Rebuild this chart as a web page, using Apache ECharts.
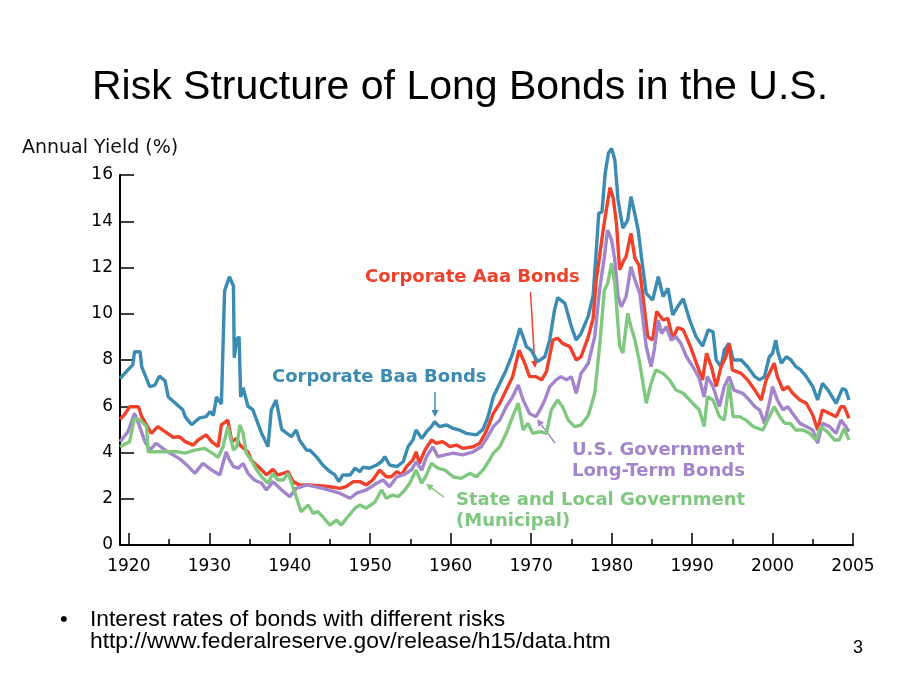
<!DOCTYPE html>
<html>
<head>
<meta charset="utf-8">
<script src="https://cdn.jsdelivr.net/npm/echarts@6/dist/echarts.min.js"></script>
<style>
html,body{margin:0;padding:0;background:#fff;}
#chart{width:920px;height:690px;}
</style>
</head>
<body>
<div id="chart"></div>
<script>
// ---- Data (x = position on the drawn time axis, y = annual yield %) ----
const baaYear = [1918.9,1920.5,1920.7,1921.4,1921.6,1922.6,1923.2,1923.8,1924.5,1924.9,1925.9,1926.7,1927.0,1927.8,1928.8,1929.6,1930.1,1930.5,1930.9,1931.5,1931.9,1932.5,1933.0,1933.1,1933.4,1933.7,1933.9,1934.2,1934.8,1935.4,1936.5,1937.3,1937.7,1938.3,1939.0,1940.2,1940.8,1941.2,1942.1,1942.5,1943.3,1944.1,1945.0,1945.6,1946.1,1946.6,1947.5,1948.1,1948.7,1949.1,1949.9,1950.8,1951.4,1951.8,1952.4,1953.3,1954.1,1954.7,1955.3,1955.7,1956.4,1957.0,1957.6,1958.0,1958.6,1959.5,1960.3,1961.1,1961.9,1963.2,1964.0,1964.6,1965.3,1966.1,1966.9,1967.7,1968.6,1969.0,1969.4,1970.0,1970.8,1971.7,1972.3,1972.9,1973.3,1974.2,1975.0,1975.6,1976.2,1977.1,1977.7,1978.1,1978.4,1978.8,1979.2,1979.6,1980.0,1980.4,1980.8,1981.4,1982.0,1982.4,1982.9,1983.3,1983.7,1984.3,1985.1,1985.8,1986.4,1987.0,1987.6,1988.2,1988.9,1989.7,1990.5,1991.3,1992.0,1992.6,1993.0,1993.6,1994.0,1994.6,1995.1,1996.1,1996.9,1997.8,1998.4,1999.0,1999.6,2000.0,2000.4,2000.7,2001.1,2001.7,2002.3,2002.9,2003.5,2004.2,2005.0,2005.6,2006.2,2006.9,2007.9,2008.7,2009.1,2009.5];
const baaYield = [7.2,7.8,8.36,8.36,7.7,6.85,6.9,7.3,7.1,6.4,6.1,5.85,5.55,5.2,5.5,5.55,5.77,5.6,6.4,6.1,11.0,11.6,11.2,8.1,8.9,9.0,6.4,6.8,6.0,5.85,4.83,4.25,5.84,6.27,5.0,4.68,4.97,4.54,4.1,4.1,3.82,3.46,3.17,3.03,2.74,3.03,3.03,3.32,3.17,3.36,3.32,3.46,3.6,3.82,3.46,3.39,3.6,4.25,4.54,4.97,4.61,4.9,5.12,5.33,5.12,5.19,5.04,4.97,4.83,4.76,5.0,5.5,6.41,6.99,7.57,8.29,9.37,9.0,8.58,8.43,7.93,8.14,8.86,10.16,10.7,10.45,9.44,8.86,9.15,9.9,10.8,12.76,14.34,14.4,16.07,16.94,17.15,16.65,14.92,13.7,14.05,15.06,14.3,13.62,12.47,10.88,10.59,11.6,10.74,11.1,9.95,10.3,10.65,9.73,9.0,8.6,9.3,9.22,8.0,7.71,8.43,8.72,8.0,8.0,7.71,7.28,7.14,7.28,8.14,8.29,8.86,8.29,7.86,8.14,8.0,7.71,7.57,7.28,6.85,6.27,6.99,6.7,6.13,6.77,6.7,6.27];

const aaaYear = [1918.9,1919.5,1920.1,1921.2,1921.6,1922.8,1923.6,1924.5,1925.5,1926.3,1927.0,1928.0,1928.6,1929.6,1930.3,1931.1,1931.5,1932.3,1932.8,1933.4,1933.8,1934.8,1935.2,1936.3,1937.1,1937.9,1938.5,1939.2,1939.8,1940.4,1941.2,1942.5,1944.1,1945.4,1946.2,1947.0,1947.9,1948.7,1949.5,1950.3,1951.2,1952.0,1952.6,1953.3,1953.9,1954.5,1955.3,1955.7,1956.1,1956.8,1957.6,1958.2,1959.0,1959.9,1960.7,1961.5,1962.8,1963.6,1964.4,1965.3,1966.1,1966.9,1967.7,1968.5,1969.2,1969.8,1970.6,1971.3,1971.9,1972.7,1973.3,1973.9,1974.8,1975.6,1976.2,1977.1,1977.7,1978.1,1978.5,1978.9,1979.3,1979.8,1980.2,1980.6,1981.0,1981.5,1981.8,1982.4,1982.9,1983.4,1983.9,1984.5,1985.1,1985.6,1986.4,1987.0,1987.6,1988.2,1988.9,1989.8,1990.5,1991.3,1991.8,1992.4,1993.0,1993.6,1994.2,1994.6,1995.0,1996.1,1996.9,1997.8,1998.6,1999.2,2000.2,2000.6,2001.3,2001.9,2002.5,2003.4,2004.2,2005.0,2005.6,2006.2,2007.1,2007.9,2008.5,2008.9,2009.5];
const aaaYield = [5.43,5.66,5.98,5.98,5.55,4.83,5.12,4.9,4.66,4.68,4.47,4.32,4.54,4.76,4.47,4.25,5.19,5.4,4.47,4.61,4.32,4.03,3.68,3.32,3.03,3.27,3.03,3.1,3.17,2.74,2.6,2.6,2.55,2.5,2.45,2.52,2.74,2.74,2.6,2.81,3.24,2.95,2.95,3.17,3.03,3.39,3.68,4.03,3.53,4.1,4.54,4.4,4.47,4.25,4.32,4.18,4.25,4.4,4.9,5.69,6.13,6.7,7.28,8.43,7.86,7.28,7.28,7.14,7.5,8.86,8.94,8.72,8.58,8.0,8.14,9.0,9.8,11.5,12.47,13.5,14.4,15.46,15.0,13.9,11.9,12.3,12.47,13.48,12.4,12.1,10.74,9.0,8.86,10.1,9.73,9.8,8.9,9.4,9.3,8.58,7.9,7.14,8.29,7.71,6.85,7.71,8.14,8.72,7.57,7.42,7.14,6.7,6.27,7.14,7.86,7.28,6.7,6.85,6.56,6.27,6.13,5.62,4.97,5.84,5.69,5.55,5.98,5.98,5.48];

const govYear = [1918.9,1919.9,1920.7,1921.2,1922.0,1922.6,1923.4,1924.5,1925.5,1926.5,1927.4,1928.2,1929.2,1930.3,1931.3,1932.1,1932.5,1933.0,1933.6,1934.2,1934.8,1935.6,1936.5,1937.1,1937.9,1939.0,1940.0,1940.8,1942.1,1944.1,1946.2,1947.5,1948.3,1949.5,1950.8,1951.6,1952.4,1953.3,1954.1,1955.1,1955.7,1956.4,1957.0,1957.8,1958.4,1959.3,1960.3,1961.5,1962.8,1963.8,1964.6,1965.3,1966.1,1966.9,1967.7,1968.4,1969.0,1969.8,1970.6,1971.1,1971.7,1972.3,1973.1,1973.7,1974.4,1975.0,1975.6,1976.2,1977.1,1977.9,1978.5,1979.1,1979.5,1980.0,1980.4,1980.8,1981.2,1981.8,1982.4,1982.9,1983.5,1983.9,1984.3,1984.9,1985.3,1985.8,1986.2,1986.8,1987.4,1988.0,1988.6,1989.3,1990.1,1990.9,1991.5,1991.9,1992.6,1993.4,1994.0,1994.6,1995.2,1996.3,1997.1,1997.8,1998.4,1999.0,1999.6,2000.0,2000.6,2001.3,2001.9,2002.5,2003.4,2004.2,2005.0,2005.6,2006.2,2007.1,2007.9,2008.5,2009.1,2009.5];
const govYield = [4.47,4.9,5.69,5.26,4.47,4.1,4.4,4.1,3.9,3.68,3.39,3.1,3.53,3.24,3.03,4.03,3.68,3.39,3.32,3.53,3.1,2.81,2.67,2.38,2.74,2.38,2.09,2.45,2.6,2.45,2.24,2.02,2.24,2.38,2.67,2.81,2.52,2.95,3.03,3.24,3.6,3.24,3.82,4.25,3.82,3.9,3.97,3.9,4.03,4.25,4.68,5.12,5.4,5.98,6.41,6.92,6.27,5.69,5.55,5.84,6.27,6.85,7.14,7.28,7.14,7.28,6.56,7.42,7.86,9.0,11.03,12.47,13.62,13.19,12.32,10.74,10.3,10.74,12.03,11.46,10.88,9.73,8.58,7.71,8.43,9.73,9.15,9.44,8.86,9.0,8.72,8.14,7.71,7.2,6.4,7.28,6.85,5.98,6.85,7.28,6.7,6.56,6.27,5.98,5.84,5.26,6.13,6.85,6.27,5.84,5.98,5.69,5.26,5.12,4.97,4.4,5.26,5.12,4.83,5.4,5.12,4.9];

const muniYear = [1918.9,1920.1,1920.7,1921.4,1922.2,1922.4,1923.2,1924.5,1926.1,1927.0,1928.2,1929.4,1930.3,1931.1,1931.7,1932.3,1933.0,1933.4,1933.8,1934.2,1934.6,1935.2,1935.9,1936.5,1937.3,1937.9,1938.5,1939.2,1939.8,1940.6,1941.4,1942.3,1942.9,1943.5,1944.1,1945.0,1945.8,1946.4,1947.2,1948.1,1948.7,1949.5,1950.6,1951.4,1952.0,1952.8,1953.5,1954.3,1954.9,1955.7,1956.4,1957.0,1957.6,1958.4,1959.3,1960.3,1961.3,1962.4,1963.2,1964.0,1964.7,1965.3,1966.1,1966.9,1967.7,1968.4,1969.0,1969.6,1970.2,1971.1,1971.9,1972.5,1973.3,1973.9,1974.6,1975.4,1976.2,1977.1,1977.9,1978.5,1979.1,1979.5,1980.0,1980.4,1981.0,1981.4,1982.0,1982.4,1982.9,1983.5,1984.3,1984.9,1985.5,1986.4,1987.2,1988.0,1988.9,1989.7,1990.5,1990.9,1991.5,1991.9,1992.6,1993.4,1994.0,1994.6,1995.1,1995.9,1996.7,1997.6,1998.2,1998.8,1999.2,1999.8,2000.2,2000.9,2001.5,2002.2,2002.9,2003.8,2004.6,2005.4,2006.0,2006.8,2007.7,2008.3,2008.9,2009.5];
const muniYield = [4.25,4.47,5.48,5.4,5.12,4.03,4.03,4.03,4.03,3.97,4.1,4.18,3.99,3.79,4.25,5.12,4.1,4.25,5.19,4.83,3.97,3.68,3.24,2.95,2.67,3.1,2.81,2.81,3.1,2.3,1.44,1.73,1.37,1.44,1.22,0.86,1.08,0.86,1.22,1.59,1.73,1.59,1.87,2.38,2.02,2.16,2.09,2.38,2.67,3.24,2.67,3.03,3.53,3.32,3.24,2.95,2.88,3.1,2.95,3.24,3.6,3.97,4.25,4.83,5.55,6.13,4.97,5.26,4.83,4.9,4.83,5.84,6.27,5.98,5.4,5.12,5.19,5.6,6.56,8.58,11.03,11.3,12.18,11.3,8.6,8.3,10.02,9.44,8.86,7.86,6.13,6.99,7.57,7.42,7.14,6.7,6.56,6.27,5.98,5.84,5.12,6.41,6.27,5.55,5.4,6.99,5.55,5.55,5.4,5.12,5.04,4.97,5.26,5.69,5.98,5.55,5.26,5.26,4.97,4.97,4.83,4.54,5.12,4.9,4.54,4.54,5.04,4.54];

// Axis ticks and labels
const majorTicks = [1920,1930,1940,1950,1960,1970,1980,1990,2000,2010];
const majorLabels = ['1920','1930','1940','1950','1960','1970','1980','1990','2000','2005'];
const minorTicks = [1925,1935,1945,1955,1965,1975,1985,1995,2005];

const pairs = (xs, ys) => xs.map((x, i) => [x, ys[i]]);

const C_BAA = '#3b8bb2', C_AAA = '#f0412b', C_GOV = '#a385cb', C_MUNI = '#80c880';
const FONT = '"DejaVu Sans", sans-serif';
const SANS = '"Liberation Sans", Arial, sans-serif';

const chart = echarts.init(document.getElementById('chart'), null, {renderer: 'canvas'});

function mkSeries(name, data, color) {
  return {
    name, type: 'line', data, showSymbol: false, clip: false,
    lineStyle: {color, width: 3.4}, itemStyle: {color},
    emphasis: {disabled: true}, silent: true
  };
}

function txt(text, x, y, fill, font, align) {
  return {type: 'text', style: {text, x, y, fill, font, textAlign: align || 'left', textVerticalAlign: 'middle'}, silent: true};
}
function arrow(x1, y1, x2, y2, color) {
  const a = Math.atan2(y2 - y1, x2 - x1), L = 7, W = 3.5;
  const bx = x2 - L * Math.cos(a), by = y2 - L * Math.sin(a);
  const px = -Math.sin(a) * W, py = Math.cos(a) * W;
  return [
    {type: 'line', shape: {x1, y1, x2: bx, y2: by}, style: {stroke: color, lineWidth: 1.5}, silent: true},
    {type: 'polygon', shape: {points: [[x2, y2], [bx + px, by + py], [bx - px, by - py]]}, style: {fill: color}, silent: true}
  ];
}

const option = {
  animation: false,
  backgroundColor: '#fff',
  grid: {left: 120, right: 67, top: 175, bottom: 145, containLabel: false},
  xAxis: [{
    type: 'value', min: 1918.9, max: 2010,
    axisLine: {show: true, onZero: false, lineStyle: {color: '#000', width: 2}},
    axisTick: {show: true, inside: true, length: 12, customValues: majorTicks, lineStyle: {color: '#000', width: 1.5}},
    axisLabel: {show: true, customValues: majorTicks, margin: 13, color: '#000', fontSize: 17, fontFamily: FONT,
      formatter: v => { const i = majorTicks.indexOf(v); return i >= 0 ? majorLabels[i] : ''; }},
    splitLine: {show: false}
  }, {
    type: 'value', min: 1918.9, max: 2010, position: 'bottom',
    axisLine: {show: false},
    axisTick: {show: true, inside: true, length: 6, customValues: minorTicks, lineStyle: {color: '#000', width: 1.5}},
    axisLabel: {show: false},
    splitLine: {show: false}
  }],
  yAxis: {
    type: 'value', min: 0, max: 16, interval: 2,
    axisLine: {show: true, lineStyle: {color: '#000', width: 2}},
    axisTick: {show: true, inside: true, length: 14, lineStyle: {color: '#000', width: 1.5}},
    axisLabel: {color: '#000', fontSize: 17, fontFamily: FONT, margin: 7},
    splitLine: {show: false}
  },
  series: [
    mkSeries('Corporate Baa Bonds', pairs(baaYear, baaYield), C_BAA),
    mkSeries('Corporate Aaa Bonds', pairs(aaaYear, aaaYield), C_AAA),
    mkSeries('U.S. Government Long-Term Bonds', pairs(govYear, govYield), C_GOV),
    mkSeries('State and Local Government (Municipal)', pairs(muniYear, muniYield), C_MUNI)
  ],
  graphic: [
    txt('Risk Structure of Long Bonds in the U.S.', 460, 88, '#000', '41px ' + SANS, 'center'),
    txt('Annual Yield (%)', 22, 148, '#111', '19px ' + FONT),
    txt('Corporate Aaa Bonds', 365, 277, C_AAA, 'bold 18px ' + FONT),
    txt('Corporate Baa Bonds', 272, 377, C_BAA, 'bold 18px ' + FONT),
    txt('U.S. Government', 572, 450, C_GOV, 'bold 18px ' + FONT),
    txt('Long-Term Bonds', 572, 471, C_GOV, 'bold 18px ' + FONT),
    txt('State and Local Government', 456, 500, C_MUNI, 'bold 18px ' + FONT),
    txt('(Municipal)', 456, 521, C_MUNI, 'bold 18px ' + FONT),
    ...arrow(435, 392, 435, 417, C_BAA),
    ...arrow(530.5, 292, 535, 368, C_AAA),
    ...arrow(555, 443, 537, 419, C_GOV),
    ...arrow(444, 497, 426, 484, C_MUNI),
    txt('•', 60, 620, '#000', '22px ' + SANS),
    txt('Interest rates of bonds with different risks', 90, 620, '#000', '22.8px ' + SANS),
    txt('http://www.federalreserve.gov/release/h15/data.htm', 90, 642, '#000', '22.8px ' + SANS),
    txt('3', 853, 648, '#000', '18px ' + SANS)
  ]
};
chart.setOption(option);
</script>
</body>
</html>
